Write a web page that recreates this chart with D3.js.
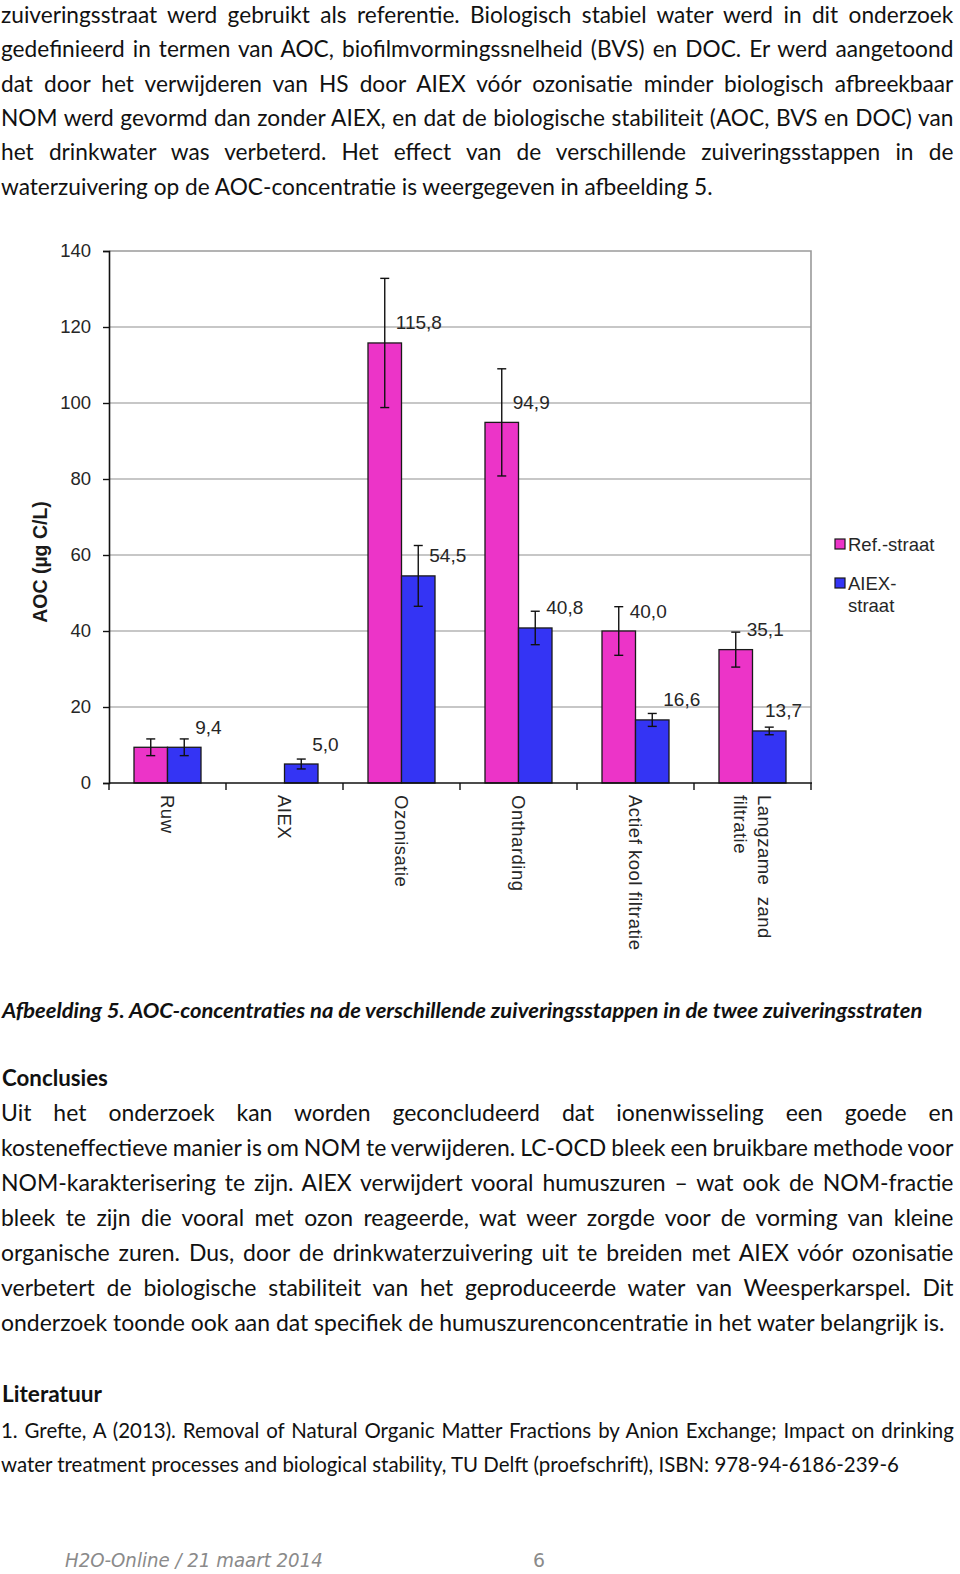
<!DOCTYPE html>
<html><head><meta charset="utf-8">
<script src="https://cdn.jsdelivr.net/npm/d3@7"></script>
<style>
html,body{margin:0;padding:0;background:#fff;}
svg{display:block;}
</style></head>
<body>
<script>
// ---------- DATA ----------
const categories = ["Ruw", "AIEX", "Ozonisatie", "Onthardging", "Actief kool filtratie", "Langzame zand filtratie"];
const categoryLabels = [["Ruw"], ["AIEX"], ["Ozonisatie"], ["Ontharding"], ["Actief kool filtratie"], ["Langzame  zand", "filtratie"]];
const seriesNames = ["Ref.-straat", "AIEX-straat"];
const legendLabels = [["Ref.-straat"], ["AIEX-", "straat"]];
const refValues = [9.4, null, 115.8, 94.9, 40.0, 35.1];
const aiexValues = [9.4, 5.0, 54.5, 40.8, 16.6, 13.7];
const refErrors = [2.2, null, 17.0, 14.1, 6.4, 4.6];
const aiexErrors = [2.2, 1.3, 8.0, 4.4, 1.7, 1.0];
const refLabelShown = [false, false, true, true, true, true];
const aiexLabelShown = [true, true, true, true, true, true];
const yTicks = [0, 20, 40, 60, 80, 100, 120, 140];
const yTitle = "AOC (µg C/L)";

// ---------- PAGE TEXT ----------
const para1 = [
  "zuiveringsstraat werd gebruikt als referentie. Biologisch stabiel water werd in dit onderzoek",
  "gedefinieerd in termen van AOC, biofilmvormingssnelheid (BVS) en DOC. Er werd aangetoond",
  "dat door het verwijderen van HS door AIEX vóór ozonisatie minder biologisch afbreekbaar",
  "NOM werd gevormd dan zonder AIEX, en dat de biologische stabiliteit (AOC, BVS en DOC) van",
  "het drinkwater was verbeterd. Het effect van de verschillende zuiveringsstappen in de",
  "waterzuivering op de AOC-concentratie is weergegeven in afbeelding 5."
];
const caption = "Afbeelding 5. AOC-concentraties na de verschillende zuiveringsstappen in de twee zuiveringsstraten";
const heading1 = "Conclusies";
const para2 = [
  "Uit het onderzoek kan worden geconcludeerd dat ionenwisseling een goede en",
  "kosteneffectieve manier is om NOM te verwijderen. LC-OCD bleek een bruikbare methode voor",
  "NOM-karakterisering te zijn. AIEX verwijdert vooral humuszuren – wat ook de NOM-fractie",
  "bleek te zijn die vooral met ozon reageerde, wat weer zorgde voor de vorming van kleine",
  "organische zuren. Dus, door de drinkwaterzuivering uit te breiden met AIEX vóór ozonisatie",
  "verbetert de biologische stabiliteit van het geproduceerde water van Weesperkarspel. Dit",
  "onderzoek toonde ook aan dat specifiek de humuszurenconcentratie in het water belangrijk is."
];
const heading2 = "Literatuur";
const para3 = [
  "1. Grefte, A (2013). Removal of Natural Organic Matter Fractions by Anion Exchange; Impact on drinking",
  "water treatment processes and biological stability, TU Delft (proefschrift), ISBN: 978-94-6186-239-6"
];
const footerLeft = "H2O-Online / 21 maart 2014";
const footerRight = "6";

// ---------- SETUP ----------
const W = 960, H = 1574;
const svg = d3.select("body").append("svg").attr("width", W).attr("height", H);

const BODY_FONT = "Lato, 'Open Sans', sans-serif";

function drawLines(lines, o) {
  const g = svg.append("g");
  const nodes = lines.map((t, i) => g.append("text")
    .attr("x", 0).attr("y", 0)
    .attr("dominant-baseline", "middle")
    .style("font-family", o.family || BODY_FONT)
    .style("font-size", o.size + "px")
    .style("font-weight", o.weight || "normal")
    .style("font-style", o.style || "normal")
    .attr("fill", o.fill || "#111")
    .text(t));
  const widths = nodes.map(n => n.node().getComputedTextLength());
  const last = widths.length - 1;
  const sx = o.lastWidth / widths[last];
  nodes.forEach((n, i) => {
    if (i < last && o.justifyWidth) {
      const spaces = (lines[i].match(/ /g) || []).length;
      const ws = (o.justifyWidth / sx - widths[i]) / spaces;
      n.style("word-spacing", ws + "px");
    }
    n.attr("transform", `translate(${o.x},${o.y + i * o.lh}) scale(${sx},1)`);
  });
}

drawLines(para1, {x: 1, y: 17, lh: 34.4, size: 23, lastWidth: 712, justifyWidth: 953});
drawLines([caption], {x: 2, y: 1013, lh: 0, size: 21, weight: "bold", style: "italic", lastWidth: 921});
drawLines([heading1], {x: 2, y: 1080, lh: 0, size: 23, weight: "bold", lastWidth: 106});
drawLines(para2, {x: 1, y: 1115, lh: 35.1, size: 23, lastWidth: 944, justifyWidth: 953});
drawLines([heading2], {x: 2, y: 1396, lh: 0, size: 23, weight: "bold", lastWidth: 100});
drawLines(para3, {x: 1, y: 1433, lh: 34, size: 21, lastWidth: 898, justifyWidth: 953});
drawLines([footerLeft], {x: 65, y: 1561, lh: 0, size: 19, style: "italic", family: "'DejaVu Sans', Verdana, sans-serif", fill: "#8a8a8a", lastWidth: 258});
drawLines([footerRight], {x: 533, y: 1561, lh: 0, size: 19, family: "'DejaVu Sans', Verdana, sans-serif", fill: "#8a8a8a", lastWidth: 12});

// ---------- CHART ----------
const CHART_FONT = "'Liberation Sans', Arial, Helvetica, sans-serif";
const plot = {left: 109, right: 811, top: 251, bottom: 783};
const y = d3.scaleLinear().domain([0, 140]).range([plot.bottom, plot.top]);
const x0 = d3.scaleBand().domain(categories).range([plot.left, plot.right]).padding(0);
const x1 = d3.scaleBand().domain(seriesNames).range([0, x0.bandwidth()]).paddingInner(0).paddingOuter(0.746);
const colors = {"Ref.-straat": "#ec34c8", "AIEX-straat": "#3434f4"};

const chart = svg.append("g");

// gridlines
chart.append("g").selectAll("line").data(yTicks.filter(d => d > 0 && d < 140)).join("line")
  .attr("x1", plot.left).attr("x2", plot.right)
  .attr("y1", d => y(d)).attr("y2", d => y(d))
  .attr("stroke", "#b4b4b4").attr("stroke-width", 1.3);
// frame top & right
chart.append("path")
  .attr("d", `M${plot.left},${y(140)}H${plot.right}V${plot.bottom}`)
  .attr("fill", "none").attr("stroke", "#9a9a9a").attr("stroke-width", 1.6);

// bars
const series = [
  {name: seriesNames[0], vals: refValues, errs: refErrors, show: refLabelShown},
  {name: seriesNames[1], vals: aiexValues, errs: aiexErrors, show: aiexLabelShown}
];
const points = [];
series.forEach(s => categories.forEach((c, i) => {
  if (s.vals[i] == null) return;
  points.push({cat: c, name: s.name, v: s.vals[i], e: s.errs[i], show: s.show[i]});
}));

chart.append("g").selectAll("rect").data(points).join("rect")
  .attr("x", d => x0(d.cat) + x1(d.name))
  .attr("y", d => y(d.v))
  .attr("width", x1.bandwidth())
  .attr("height", d => y(0) - y(d.v))
  .attr("fill", d => colors[d.name])
  .attr("stroke", "#1a1a1a").attr("stroke-width", 1.3);

// error bars
const cx = d => x0(d.cat) + x1(d.name) + x1.bandwidth() / 2;
const eb = chart.append("g").attr("stroke", "#111").attr("stroke-width", 1.4);
points.filter(d => d.e != null).forEach(d => {
  const c = cx(d);
  eb.append("line").attr("x1", c).attr("x2", c).attr("y1", y(d.v + d.e)).attr("y2", y(d.v - d.e));
  eb.append("line").attr("x1", c - 4.5).attr("x2", c + 4.5).attr("y1", y(d.v + d.e)).attr("y2", y(d.v + d.e));
  eb.append("line").attr("x1", c - 4.5).attr("x2", c + 4.5).attr("y1", y(d.v - d.e)).attr("y2", y(d.v - d.e));
});

// data labels
const fmt = v => d3.format(".1f")(v).replace(".", ",");
chart.append("g").selectAll("text").data(points.filter(d => d.show)).join("text")
  .attr("x", d => cx(d) + 11)
  .attr("y", d => y(d.v) - 20)
  .attr("dominant-baseline", "central")
  .style("font-family", CHART_FONT).style("font-size", "19px")
  .attr("fill", "#262626")
  .text(d => fmt(d.v))
  .each(function () {
    const t = d3.select(this);
    const w = this.getComputedTextLength();
    const xx = +t.attr("x");
    if (xx + w > plot.right) t.attr("x", plot.right - w - 9);
  });

// y axis
const yAxis = chart.append("g").attr("transform", `translate(${plot.left},0)`)
  .call(d3.axisLeft(y).tickValues(yTicks).tickSize(6).tickPadding(12).tickFormat(d3.format("d")));
yAxis.select(".domain").attr("stroke", "#111").attr("stroke-width", 1.6);
yAxis.selectAll(".tick line").attr("stroke", "#111").attr("stroke-width", 1.4);
yAxis.selectAll(".tick text").style("font-family", CHART_FONT).style("font-size", "18.5px").attr("fill", "#262626");

// x axis
chart.append("line").attr("x1", plot.left).attr("x2", plot.right + 1)
  .attr("y1", y(0)).attr("y2", y(0)).attr("stroke", "#111").attr("stroke-width", 1.6);
const bounds = categories.map(c => x0(c)).concat([x0(categories[categories.length - 1]) + x0.bandwidth()]);
chart.append("g").selectAll("line").data(bounds).join("line")
  .attr("x1", d => d).attr("x2", d => d).attr("y1", y(0)).attr("y2", y(0) + 7)
  .attr("stroke", "#111").attr("stroke-width", 1.4);

const xl = chart.append("g").selectAll("g").data(categories).join("g")
  .attr("transform", (c) => `translate(${x0(c) + x0.bandwidth() / 2},${y(0) + 12}) rotate(90)`);
xl.each(function (c, i) {
  const lines = categoryLabels[i];
  const t = d3.select(this).append("text")
    .style("font-family", CHART_FONT).style("font-size", "18.5px")
    .style("letter-spacing", "0.5px").attr("fill", "#262626");
  lines.forEach((l, j) => t.append("tspan").attr("x", 0)
    .attr("y", (j - (lines.length - 1) / 2) * 24)
    .attr("dominant-baseline", "central").style("white-space", "pre").text(l));
});

// y title
chart.append("text")
  .attr("transform", `translate(40,562) rotate(-90)`)
  .attr("text-anchor", "middle").attr("dominant-baseline", "central")
  .style("font-family", CHART_FONT).style("font-size", "19.5px").style("font-weight", "bold")
  .attr("fill", "#1a1a1a").text(yTitle);

// legend
const leg = chart.append("g");
const legY = [544, 583];
seriesNames.forEach((s, i) => {
  leg.append("rect").attr("x", 835).attr("y", legY[i] - 5).attr("width", 10).attr("height", 10)
    .attr("fill", colors[s]).attr("stroke", "#1a1a1a").attr("stroke-width", 1.2);
  legendLabels[i].forEach((l, j) => leg.append("text")
    .attr("x", 848).attr("y", legY[i] + j * 22)
    .attr("dominant-baseline", "central")
    .style("font-family", CHART_FONT).style("font-size", "18.5px")
    .attr("fill", "#262626").text(l));
});
</script>
</body></html>
